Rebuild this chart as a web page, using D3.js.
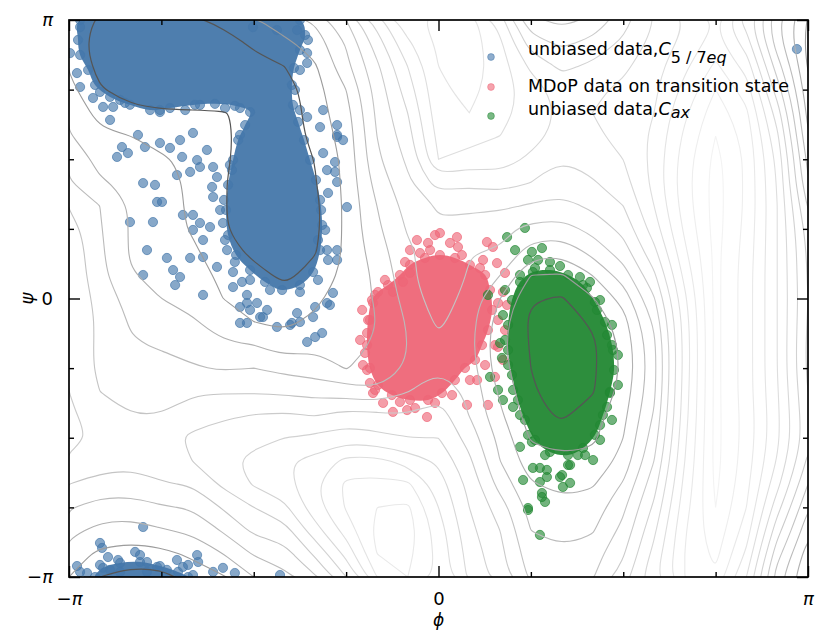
<!DOCTYPE html>
<html>
<head>
<meta charset="utf-8">
<script src="https://cdn.jsdelivr.net/npm/d3@7/dist/d3.min.js"></script>
<style>
html,body{margin:0;padding:0;background:#fff;}
svg{display:block;font-family:"DejaVu Sans",sans-serif;}
</style>
</head>
<body>
<svg id="chart" width="831" height="642"></svg>
<script>
// ---------------- data ----------------
const phiGrid = [-180,-165,-150,-135,-120,-105,-90,-75,-60,-45,-30,-15,0,15,30,45,60,75,90,105,120,135,150,165,180];
const psiGrid = [180,165,150,135,120,105,90,75,60,45,30,15,0,-15,-30,-45,-60,-75,-90,-105,-120,-135,-150,-165,-180];
// free energy, one column per phi value, listed from psi = +180 down to psi = -180
const freeEnergy = [
 [1.9,1.7,1.9,2.3,2.7,3.1,3.7,4.1,4.9,5.5,5.8,5.9,6.0,5.9,5.8,5.8,6.0,6.2,6.3,5.8,5.0,4.1,3.3,2.5,2.0],
 [0.8,0.5,0.7,1.1,1.7,2.2,2.7,3.1,4.0,4.1,4.2,4.3,4.6,4.8,4.8,4.8,5.0,5.4,5.8,5.5,4.6,3.6,2.7,1.8,1.0],
 [0.4,0.2,0.2,0.5,1.3,2.0,2.5,2.8,2.9,2.9,2.9,3.1,3.6,3.9,4.1,4.5,4.8,5.0,5.5,5.3,4.5,3.6,2.5,1.6,0.6],
 [0.4,0.2,0.2,0.5,1.1,1.6,2.15,2.4,2.5,2.5,2.5,2.6,3.0,3.4,3.9,4.3,4.7,5.0,5.6,5.6,4.9,3.9,2.9,1.7,0.7],
 [0.8,0.2,0.1,0.3,1.1,1.4,1.7,1.8,1.8,1.9,2.2,2.4,2.7,3.1,3.6,4.1,4.9,5.5,6.2,6.0,5.1,4.1,3.2,2.2,1.4],
 [1.3,0.5,0.2,0.3,1.05,1.25,1.2,1.1,1.1,1.1,1.4,1.8,2.0,2.6,3.1,3.9,4.9,5.8,6.6,6.8,6.2,5.1,4.1,3.0,1.9],
 [1.9,1.2,0.6,0.3,0.8,0.4,0.4,0.3,0.3,0.4,0.8,1.3,1.8,2.0,3.0,4.0,4.9,6.0,6.8,7.2,7.1,6.0,5.2,4.1,3.0],
 [2.5,1.8,1.0,0.5,0.3,0.2,0.1,0.1,0.1,0.2,0.4,0.8,1.4,1.8,2.4,3.7,4.8,6.1,7.0,7.9,7.6,6.8,5.6,4.6,3.7],
 [3.2,2.4,1.9,1.6,1.55,1.4,1.05,0.95,0.8,0.8,0.95,1.3,1.8,2.2,2.8,3.5,4.6,5.9,7.2,8.3,8.9,8.6,7.6,6.2,4.9],
 [5.0,4.1,3.7,3.0,2.6,2.4,2.3,2.25,2.2,2.2,2.2,2.3,2.5,2.6,2.7,2.95,4.5,6.3,7.6,9.3,10.2,10.1,9.4,8.3,7.0],
 [7.5,6.5,5.8,5.4,5.2,5.0,4.8,4.4,4.0,3.8,3.5,3.2,3.1,3.0,3.1,3.4,4.1,6.2,7.3,9.3,10.3,11.0,11.3,11.0,10.0],
 [9.8,8.8,8.0,7.5,7.0,6.6,6.2,5.8,5.4,5.1,4.8,4.7,4.4,4.1,4.0,4.1,4.95,6.0,7.0,8.6,10.2,11.2,11.5,11.3,11.0],
 [10.2,10.2,10.0,9.8,9.6,9.3,9.0,7.5,6.1,5.9,5.6,5.8,5.6,5.2,4.7,4.9,5.6,6.5,7.0,7.8,8.5,9.0,9.5,9.7,9.8],
 [10.5,10.6,10.5,10.3,10.0,9.5,8.5,7.2,6.2,5.6,5.05,4.9,4.6,4.4,4.3,4.5,4.8,4.95,5.6,6.2,6.7,7.0,7.3,7.6,7.8],
 [8.5,9.2,9.5,9.5,9.3,9.0,8.5,7.5,6.2,5.3,4.9,4.0,3.0,2.5,2.3,2.4,2.8,3.2,3.7,4.0,4.6,5.5,6.0,6.3,6.5],
 [5.2,6.5,7.8,8.5,8.6,8.4,7.8,7.0,5.9,4.7,3.5,2.0,1.1,0.8,0.9,1.0,1.2,1.4,1.9,2.4,3.1,3.6,4.0,4.4,4.8],
 [4.7,5.8,6.8,7.5,7.8,7.6,7.0,6.5,5.7,4.6,3.2,1.9,0.9,0.3,0.0,0.0,0.2,0.8,1.6,2.2,2.7,3.3,3.8,4.1,4.3],
 [5.2,6.3,7.2,7.8,8.0,7.8,7.4,6.9,6.2,5.3,4.3,3.0,1.9,1.2,0.8,0.8,0.9,1.5,1.8,2.3,2.9,3.4,3.9,4.5,4.9],
 [6.6,7.2,7.8,8.2,8.4,8.3,8.0,7.6,7.0,6.3,5.5,4.5,3.4,2.6,2.3,2.2,2.4,2.7,3.0,3.3,4.1,4.8,5.3,5.9,6.5],
 [8.0,8.3,8.6,8.8,9.0,9.2,9.3,9.3,9.0,8.5,7.7,6.8,5.9,5.2,4.8,4.7,4.8,5.1,5.5,6.0,6.6,7.2,7.8,8.3,8.8],
 [9.0,9.3,9.8,10.3,10.8,11.2,11.5,11.6,11.5,11.2,10.8,10.3,9.8,9.5,9.4,9.4,9.5,9.6,9.8,10.0,10.3,10.6,10.9,11.0,11.0],
 [10.0,10.5,11.2,12.0,12.6,13.0,13.3,13.4,13.4,13.4,13.3,13.3,13.3,13.3,13.3,13.3,13.3,13.3,13.3,13.3,13.2,13.0,12.7,12.3,11.8],
 [7.5,8.5,9.6,10.5,11.2,11.6,11.8,11.8,11.8,11.7,11.6,11.5,11.5,11.5,11.5,11.5,11.5,11.6,11.6,11.5,11.3,11.0,10.5,9.8,9.0],
 [4.2,4.5,5.5,6.5,7.5,8.2,8.7,8.9,9.0,9.0,9.0,9.0,9.0,9.0,9.0,9.0,9.1,9.2,9.2,8.9,8.3,7.4,6.4,5.4,4.5],
 [1.9,1.7,1.9,2.3,2.7,3.1,3.7,4.1,4.9,5.5,5.8,5.9,6.0,5.9,5.8,5.8,6.0,6.2,6.3,5.8,5.0,4.1,3.3,2.5,2.0]
];
const contourLevels = [1,2,3,4,5,6,7,8,9,10,11,12,13];

// dense cores of the three scatter sets (outline of the overlapping points), [phi, psi] in degrees
const blueCore = [[-174.6,180],[-175.6,167.1],[-174.6,157.4],[-170.7,147.7],[-167.3,138.0],[-160.0,130.3],[-150.3,125.2],[-140.5,121.8],[-130.8,123.1],[-118.6,125.2],[-108.9,125.8],[-99.2,124.5],[-91.8,120.5],[-94.2,112.1],[-97.6,102.4],[-100.1,89.5],[-102.5,73.4],[-103.5,57.2],[-102.5,41.0],[-98.6,28.1],[-91.8,18.4],[-84.5,10.7],[-76.2,5.5],[-67.5,8.7],[-61.1,17.1],[-57.7,31.3],[-56.7,47.5],[-57.7,63.7],[-59.7,76.6],[-62.6,89.5],[-65.5,102.4],[-68.4,114.1],[-70.9,125.1],[-71.4,138.0],[-70.4,149.0],[-67.5,160.6],[-65.0,170.3],[-67.5,180]];
const blueCoreBottom = [[-167.3,-180],[-163.4,-174.1],[-155.1,-170.9],[-145.4,-170.3],[-135.7,-172.9],[-126.9,-176.7],[-122.0,-180]];
const pinkCore = [[-32.4,-1.0],[-34.3,-13.9],[-34.8,-30.1],[-33.4,-44.9],[-29.5,-55.9],[-22.7,-62.4],[-13.9,-65.6],[-5.1,-65.6],[1.7,-61.1],[8.0,-52.7],[12.9,-44.9],[17.8,-39.7],[21.2,-30.1],[24.1,-20.4],[26.1,-7.4],[25.1,5.5],[22.7,15.2],[15.3,21.7],[8.0,26.2],[0.7,28.1],[-6.6,26.2],[-13.9,21.7],[-18.8,15.2],[-24.6,8.7],[-29.5,4.2]];
const greenCore = [[35.8,-1.0],[33.9,-17.1],[33.9,-33.3],[35.8,-49.4],[38.7,-65.6],[42.1,-78.5],[47.0,-91.4],[54.3,-99.2],[63.1,-101.2],[70.4,-96.6],[76.2,-88.2],[80.1,-75.3],[83.5,-60.4],[85.5,-46.2],[84.5,-30.1],[81.1,-15.2],[76.2,-2.3],[70.4,8.7],[63.1,15.2],[54.3,18.4],[46.0,17.1],[39.7,10.7]];

// individual (sparse) points
const bluePoints = [[-174.6,175.4],[-179.5,158.6],[-176.1,145.7],[-174.6,136.7],[-168.3,129.6],[-163.4,123.8],[-160.0,115.4],[-158.5,123.8],[-146.4,105.7],[-154.2,97.9],[-156.6,91.5],[-151.3,94.0],[-143.0,97.9],[-135.7,100.5],[-130.8,97.3],[-125.9,102.4],[-119.6,107.0],[-112.8,96.0],[-117.6,89.5],[-124.9,91.5],[-127.4,79.8],[-121.0,81.8],[-116.2,85.0],[-109.8,85.0],[-107.9,78.5],[-143.9,74.6],[-138.1,73.4],[-137.1,62.4],[-134.7,62.4],[-150.3,49.4],[-139.1,49.4],[-124.5,54.0],[-119.6,54.0],[-116.2,48.8],[-119.6,44.3],[-114.7,37.8],[-111.3,46.2],[-109.8,65.6],[-110.3,72.1],[-106.4,57.2],[-105.0,48.8],[-142.0,31.3],[-132.3,26.2],[-121.0,26.2],[-114.7,26.8],[-107.9,20.4],[-103.0,31.3],[-129.3,18.4],[-125.9,13.9],[-143.9,15.2],[-128.3,8.7],[-114.7,2.3],[-100.1,17.1],[-95.7,10.7],[-100.1,7.4],[-93.3,2.3],[-93.3,-2.9],[-88.4,-2.9],[-85.5,-12.0],[-96.7,-15.8],[-78.7,-18.4],[-72.3,-17.1],[-67.5,-15.2],[-61.1,-12.0],[-54.3,-2.9],[-51.4,3.6],[-54.3,31.3],[-49.4,31.3],[-49.4,24.9],[-53.8,68.2],[-44.6,59.1],[-49.4,75.3],[-54.3,83.0],[-50.4,88.2],[-56.2,94.0],[-49.4,104.4],[-46.5,102.4],[-49.4,112.1],[-57.7,110.8],[-56.2,121.8],[-64.0,117.3],[-64.0,152.2],[-64.0,158.6],[-68.9,173.5],[-78.7,173.5],[-90.4,175.4],[-96.7,-5.5],[-93.3,-15.8],[-86.9,-12.0],[-71.4,-15.8],[-68.9,-9.4],[-60.1,-5.5],[-52.9,-4.2],[-64.0,-28.1],[-60.1,-24.9],[-56.7,-22.3],[-83.5,-7.4],[-91.8,-7.4],[-49.4,105.7],[-50.4,81.8],[174.6,161.2],[-155.1,128.3],[-135.7,120.5],[-123.4,121.8],[-104.0,123.1],[-100.6,83.0],[-57.2,57.2],[-58.7,37.8],
 [-55.2,44.3],[-53.8,24.9],[-58.7,12.0],[-67.5,4.2],[-82.1,5.5],[-91.8,12.0],[-99.2,23.6],[-104.0,37.8],[-104.5,63.7],[-101.6,86.3],[-96.7,105.7],[-67.5,121.8],[-69.9,134.8],[-67.5,147.7],[-63.6,167.1],[-164.9,133.5],[-152.7,126.4],[-135.7,121.8],[-116.2,125.1],[-96.7,123.1],
 [-143.9,-147.7],[-164.9,-158.0],[-163.9,-161.2],[-161.0,-167.1],[-164.9,-172.2],[-176.1,-172.9],[-174.6,-176.7],[-171.2,-177.4],[-156.1,-169.0],[-147.8,-163.8],[-145.4,-165.8],[-142.0,-170.3],[-137.1,-173.5],[-132.3,-175.4],[-127.4,-169.0],[-124.5,-173.5],[-122.0,-172.2],[-117.6,-165.8],[-117.1,-170.3],[-109.8,-176.7],[-105.0,-174.1],[-99.2,-177.4],[-119.6,-178.7],[-77.2,-178.7],[-160.0,-175.4],[-155.1,-176.7],[-142.0,-176.7]];
const pinkPoints = [[0.7,42.3],[-1.7,41.0],[-10.5,37.8],[-5.1,35.9],[9.0,39.7],[9.5,33.3],[5.6,35.9],[23.6,36.5],[26.5,33.3],[-13.9,31.3],[-9.0,29.4],[-13.9,16.5],[-17.3,10.7],[-22.2,4.2],[-31.9,-2.9],[-33.4,-13.9],[-34.8,-22.3],[-35.8,-35.2],[-34.8,-46.2],[-33.4,-54.6],[-31.9,-61.1],[-27.0,-67.5],[-22.2,-73.3],[-15.3,-72.1],[-11.4,-70.8],[-5.6,-76.6],[13.9,-68.8],[24.1,-68.8],[18.8,-52.7],[27.5,-50.7],[31.4,-39.7],[29.0,-31.3],[32.4,-20.4],[33.4,-4.2],[31.4,4.2],[32.4,16.5],[28.5,22.9],[21.7,24.9],[29.0,-2.9],
 [-37.2,-7.4],[-38.2,-26.8],[-36.8,-43.0],[-30.9,-59.1],[-18.8,-66.9],[-1.7,-67.5],[6.6,-62.4],[15.3,-52.7],[22.7,-43.0],[27.5,-30.1],[29.0,-13.9],[20.2,19.7],[11.4,28.1],[-4.1,31.3],[-16.3,23.6],[-26.1,12.0],[-30.9,2.3]];
const greenPoints = [[42.1,45.6],[33.4,39.7],[37.3,31.3],[45.5,30.1],[50.4,32.6],[48.5,24.9],[54.3,23.6],[43.6,24.9],[24.1,2.3],[30.0,-28.8],[30.9,-38.4],[25.1,-50.7],[29.0,-59.1],[31.4,-65.6],[36.3,-70.1],[39.7,-95.9],[46.0,-109.5],[49.4,-109.5],[52.8,-110.8],[41.2,-117.3],[49.4,-118.6],[50.4,-125.7],[51.9,-131.5],[43.6,-135.4],[59.2,-115.4],[64.1,-107.6],[60.6,-121.8],[67.9,-101.2],[75.3,-104.4],[78.7,-81.8],[82.1,-70.1],[83.5,-61.1],[85.0,-33.3],[82.1,-23.6],[77.2,-7.4],[72.3,6.8],[68.9,13.9],[43.6,-136.7],[49.4,-152.8],[60.2,-114.1],[64.1,-119.2],[63.1,-107.6],[45.5,-92.7],[52.8,-115.4],[50.4,-128.3],
 [32.4,5.5],[31.4,-10.7],[32.4,-26.8],[33.9,-43.0],[36.3,-59.1],[39.7,-75.3],[43.6,-88.2],[51.9,-101.2],[71.4,-101.2],[78.7,-91.4],[84.5,-78.5],[87.4,-55.9],[87.4,-36.5],[84.5,-17.1],[78.7,-1.0],[73.8,10.7],[59.2,21.0],[47.0,19.7],[39.7,15.2]];

const majorTicks = [-180, 0, 180];
const minorTicks = [-135, -90, -45, 45, 90, 135];
const tickLabels = ["−π", "0", "π"];
const seriesNames = ["unbiased data,", "MDoP data on transition state", "unbiased data,"];
const seriesColors = ["#4477AA", "#EE6677", "#228833"];

// ---------------- drawing ----------------
const svg = d3.select("#chart");
const L = 69, R = 808, T = 20, B = 577;
const x = d3.scaleLinear().domain([-180, 180]).range([L, R]);
const y = d3.scaleLinear().domain([-180, 180]).range([B, T]);

svg.append("rect").attr("width", 831).attr("height", 642).attr("fill", "#fff");
svg.append("defs").append("clipPath").attr("id", "plotclip")
  .append("rect").attr("x", L).attr("y", T).attr("width", R - L).attr("height", B - T);

const plot = svg.append("g").attr("clip-path", "url(#plotclip)");

// scatter: dense cores + individual points
const coreLine = d3.line().x(d => x(d[0])).y(d => y(d[1])).curve(d3.curveCatmullRomClosed.alpha(0.5));
function drawSet(cores, pts, color) {
  const g = plot.append("g");
  cores.forEach(c => {
    g.append("path").attr("d", coreLine(c)).attr("fill", color).attr("fill-opacity", 0.95).attr("stroke", "none");
  });
  const all = cores.flat().concat(pts);
  g.selectAll("circle.p").data(all).join("circle").attr("class", "p")
    .attr("cx", d => x(d[0])).attr("cy", d => y(d[1])).attr("r", 4.6)
    .attr("fill", color).attr("fill-opacity", 0.64)
    .attr("stroke", color).attr("stroke-opacity", 0.75).attr("stroke-width", 0.9);
}
drawSet([blueCore, blueCoreBottom], bluePoints, seriesColors[0]);
drawSet([pinkCore], pinkPoints, seriesColors[1]);
drawSet([greenCore], greenPoints, seriesColors[2]);

// contours of the free-energy grid (wrapped periodically one cell beyond each border)
const nG = phiGrid.length, period = nG - 1, ext = nG + 2;
const wrapIdx = k => (k < 0 ? k + period : (k > nG - 1 ? k - period : k));
const gridVals = new Array(ext * ext);
for (let r = 0; r < ext; r++) for (let c = 0; c < ext; c++) {
  gridVals[r * ext + c] = freeEnergy[wrapIdx(c - 1)][wrapIdx(r - 1)];
}
const dPhi = phiGrid[1] - phiGrid[0], dPsi = psiGrid[1] - psiGrid[0];
const toPx = p => [x(phiGrid[0] + (p[0] - 1.5) * dPhi), y(psiGrid[0] + (p[1] - 1.5) * dPsi)];
const contours = d3.contours().size([ext, ext]).thresholds(contourLevels)(gridVals);
const levelColor = l => l <= 1 ? "#555555"
  : d3.interpolateRgb("#9c9c9c", "#f3f3f3")(Math.pow((l - 2) / 11, 0.6));
const ringLine = d3.line().curve(d3.curveBasisClosed);
const cg = plot.append("g").attr("fill", "none");
contours.forEach(c => {
  c.coordinates.forEach(poly => poly.forEach(ring => {
    const pts = ring.slice(0, -1).map(toPx);
    cg.append("path").attr("d", ringLine(pts))
      .attr("stroke", levelColor(c.value)).attr("stroke-width", c.value <= 1 ? 1.2 : 1.1);
  }));
});

// frame
svg.append("rect").attr("x", L).attr("y", T).attr("width", R - L).attr("height", B - T)
  .attr("fill", "none").attr("stroke", "#000").attr("stroke-width", 1.7);

// axes (ticks pointing inward)
function styleAxis(g) {
  g.select(".domain").remove();
  g.selectAll(".tick line").attr("stroke", "#000").attr("stroke-width", 1.4);
}
function labelTicks(g) {
  g.selectAll(".tick text").each(function (d, i) {
    const t = d3.select(this); const s = tickLabels[i];
    t.text(null).attr("font-family", "DejaVu Sans").attr("font-size", 18).attr("fill", "#000");
    if (s.startsWith("−")) {
      t.append("tspan").text("−");
      t.append("tspan").attr("font-style", "italic").text(s.slice(1));
    } else {
      t.append("tspan").attr("font-style", s === "π" ? "italic" : "normal").text(s);
    }
  });
}
svg.append("g").attr("transform", `translate(0,${B})`)
  .call(d3.axisBottom(x).tickValues(majorTicks).tickSize(-11).tickPadding(15).tickFormat((d, i) => tickLabels[i]))
  .call(styleAxis).call(labelTicks);
svg.append("g").attr("transform", `translate(0,${B})`)
  .call(d3.axisBottom(x).tickValues(minorTicks).tickSize(-5).tickFormat("")).call(styleAxis);
svg.append("g").attr("transform", `translate(0,${T})`)
  .call(d3.axisTop(x).tickValues(majorTicks).tickSize(-11).tickFormat("")).call(styleAxis);
svg.append("g").attr("transform", `translate(0,${T})`)
  .call(d3.axisTop(x).tickValues(minorTicks).tickSize(-5).tickFormat("")).call(styleAxis);
svg.append("g").attr("transform", `translate(${L},0)`)
  .call(d3.axisLeft(y).tickValues(majorTicks).tickSize(-11).tickPadding(16).tickFormat((d, i) => tickLabels[i]))
  .call(styleAxis).call(labelTicks);
svg.append("g").attr("transform", `translate(${L},0)`)
  .call(d3.axisLeft(y).tickValues(minorTicks).tickSize(-5).tickFormat("")).call(styleAxis);
svg.append("g").attr("transform", `translate(${R},0)`)
  .call(d3.axisRight(y).tickValues(majorTicks).tickSize(-11).tickFormat("")).call(styleAxis);
svg.append("g").attr("transform", `translate(${R},0)`)
  .call(d3.axisRight(y).tickValues(minorTicks).tickSize(-5).tickFormat("")).call(styleAxis);

// axis titles
svg.append("text").attr("x", (L + R) / 2).attr("y", 626).attr("text-anchor", "middle")
  .attr("font-size", 17).attr("font-style", "italic").text("ϕ");
svg.append("text").attr("transform", `translate(33,${(T + B) / 2}) rotate(-90)`).attr("text-anchor", "middle")
  .attr("font-size", 18).attr("font-style", "italic").text("ψ");

// legend
const legY = [57, 87, 116], legBase = [55, 91.7, 115];
const leg = svg.append("g");
seriesColors.forEach((c, i) => {
  leg.append("circle").attr("cx", 491).attr("cy", legY[i]).attr("r", 3.4)
    .attr("fill", c).attr("fill-opacity", 0.6).attr("stroke", c).attr("stroke-opacity", 0.6).attr("stroke-width", 0.8);
});
const t1 = leg.append("text").attr("x", 528).attr("y", legBase[0]).attr("font-size", 17.5);
t1.append("tspan").text(seriesNames[0]);
t1.append("tspan").attr("font-style", "italic").text("C");
t1.append("tspan").attr("font-size", 16).attr("dy", 8).text("5 / 7");
t1.append("tspan").attr("font-size", 16).attr("font-style", "italic").text("eq");
leg.append("text").attr("x", 528).attr("y", legBase[1]).attr("font-size", 17.5).text(seriesNames[1]);
const t3 = leg.append("text").attr("x", 528).attr("y", legBase[2]).attr("font-size", 17.5);
t3.append("tspan").text(seriesNames[2]);
t3.append("tspan").attr("font-style", "italic").text("C");
t3.append("tspan").attr("font-size", 16).attr("font-style", "italic").attr("dy", 3).text("ax");
</script>
</body>
</html>
